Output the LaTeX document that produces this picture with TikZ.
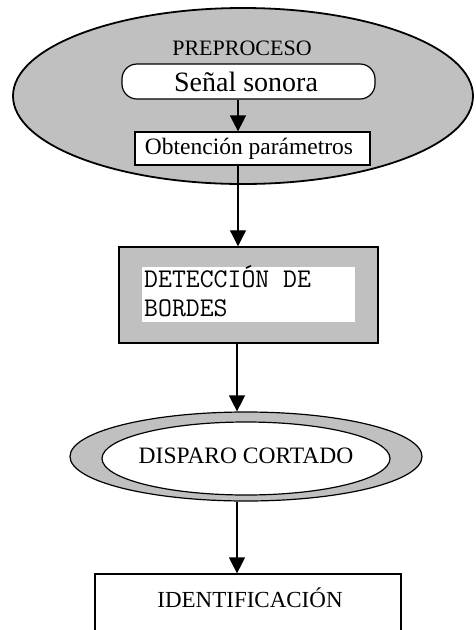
\documentclass[tikz,border=0pt]{standalone}
\usepackage{fontspec}
\setmainfont{Liberation Serif}
\usetikzlibrary{shapes.geometric,arrows.meta}
\definecolor{grisref}{HTML}{C0C0C0}
\tikzset{
  arr/.style={line width=1.2pt,-{Triangle[length=16pt,width=16pt]}},
  ovalbig/.style={ellipse,draw,fill=grisref,line width=1.8pt,inner sep=0pt},
  ovalring/.style={ellipse,draw,fill=grisref,line width=1.2pt,inner sep=0pt},
  ovalin/.style={ellipse,draw,fill=white,line width=1.2pt,inner sep=0pt},
  boxw/.style={rectangle,draw,fill=white,line width=1.2pt,inner sep=0pt},
  boxg/.style={rectangle,draw,fill=grisref,line width=1.5pt,inner sep=0pt},
  rbox/.style={rectangle,draw,fill=white,rounded corners=15pt,line width=1.2pt,inner sep=0pt},
  lbl/.style={inner sep=0pt,font=\fontsize{22}{26}\selectfont}
}
\begin{document}
\begin{tikzpicture}[x=1pt,y=-1pt]
\useasboundingbox (0,0) rectangle (476,630);
\clip (0,0) rectangle (476,630);
\coordinate (ax) at (238,0);
\coordinate (bx) at (237,0);
% Preproceso
\node[ovalbig,minimum width=460pt,minimum height=176pt] (pre) at (243,96) {};
\node[lbl] (pretit) at (242,48) {PREPROCESO};
\node[rbox,minimum width=253pt,minimum height=35pt] (senal) at (248.5,81.5) {};
\node[inner sep=0pt,font=\fontsize{28}{30}\selectfont] (senalt) at (246,82) {Señal sonora};
\node[boxw,minimum width=235pt,minimum height=33pt] (obt) at (252.5,148.5) {};
\node[inner sep=0pt,font=\fontsize{23.5}{26}\selectfont] (obtt) at (249,149) {Obtención parámetros};
% Deteccion
\node[boxg,minimum width=259pt,minimum height=96pt] (det) at (248.5,295) {};
\node[rectangle,fill=white,inner sep=0pt,minimum width=213pt,minimum height=55pt] (detin) at (248.5,294.5) {};
\node[inner sep=0pt,anchor=north west,align=left,font=\fontspec{Latin Modern Mono}\fontsize{27}{28.5}\selectfont] (dett) at (144,265.5) {DETECCIÓN DE\\BORDES};
% Disparo
\node[ovalring,minimum width=352pt,minimum height=89pt] (disp) at (246,456.5) {};
\node[ovalin,minimum width=288pt,minimum height=73pt] (dispin) at (246,458.5) {};
\node[lbl,font=\fontsize{23.5}{26}\selectfont] (dispt) at (246,456) {DISPARO CORTADO};
% Identificacion
\node[boxw,minimum width=306pt,minimum height=80pt] (ident) at (248,614) {};
\node[lbl,font=\fontsize{23}{26}\selectfont] (identt) at (250,598) {IDENTIFICACIÓN};
% connectors
\draw[arr] (senal.south -| ax) -- (obt.north -| ax);
\draw[arr] (obt.south -| ax) -- (det.north -| ax);
\draw[arr] (det.south -| bx) -- (disp.north -| bx);
\draw[arr] (disp.south -| bx) -- (ident.north -| bx);
\end{tikzpicture}
\end{document}
